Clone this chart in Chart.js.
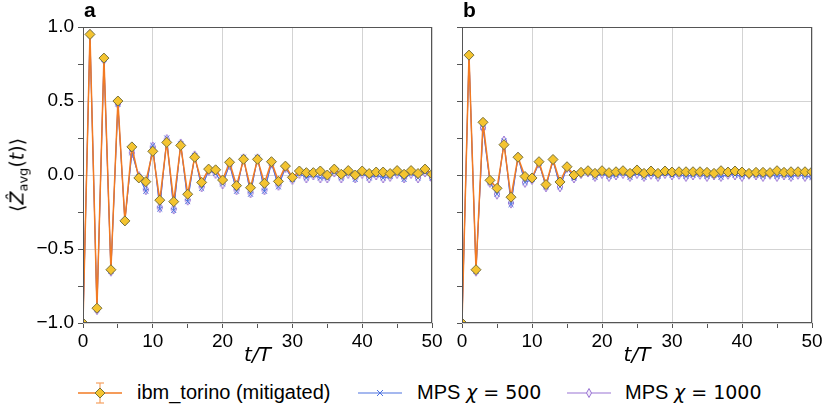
<!DOCTYPE html>
<html>
<head>
<meta charset="utf-8">
<script src="https://cdn.jsdelivr.net/npm/chart.js@4.4.1/dist/chart.umd.min.js"></script>
<style>
  body { margin: 0; background: #fff; }
  #wrap { position: relative; width: 830px; height: 419px; font-family: "Liberation Sans", Arial, sans-serif; color: #000; }
  canvas { position: absolute; top: 0; }
  .tag { position: absolute; top: -2px; font-weight: bold; font-size: 21px; }
  #ylab { position: absolute; left: 18px; top: 175px; transform: translate(-50%, -50%) rotate(-90deg);
          font-family: "DejaVu Sans", sans-serif; font-size: 19px; white-space: nowrap; }
  #ylab sub { font-size: 13px; vertical-align: -4px; }
  .leg-icon { position: absolute; top: 381px; }
  .leg-text { position: absolute; top: 381px; font-size: 20px; white-space: nowrap; }
  .math { font-family: "DejaVu Sans", sans-serif; font-size: 19px; }
</style>
</head>
<body>
<div id="wrap">
  <canvas id="chartA" width="445" height="370" style="left:0"></canvas>
  <canvas id="chartB" width="385" height="370" style="left:445px"></canvas>
  <div class="tag" style="left:84px">a</div>
  <div class="tag" style="left:463px">b</div>
  <div id="ylab">⟨<i>Ẑ</i><sub>avg</sub>(<i>t</i>)⟩</div>

  <svg class="leg-icon" style="left:78px" width="44" height="24">
    <line x1="0" y1="12" x2="44" y2="12" stroke="#f27a22" stroke-width="1.5"/>
    <line x1="22" y1="2" x2="22" y2="22" stroke="#f5a060" stroke-width="1.2"/>
    <line x1="18" y1="2" x2="26" y2="2" stroke="#f5a060" stroke-width="1.2"/>
    <line x1="18" y1="22" x2="26" y2="22" stroke="#f5a060" stroke-width="1.2"/>
    <path d="M22 7 L27 12 L22 17 L17 12 Z" fill="#f4c430" stroke="#77703a" stroke-width="1"/>
  </svg>
  <div class="leg-text" style="left:137px">ibm_torino (mitigated)</div>

  <svg class="leg-icon" style="left:358px" width="44" height="24">
    <line x1="0" y1="12" x2="44" y2="12" stroke="#4c72e0" stroke-width="1.2"/>
    <path d="M19 9 L25 15 M25 9 L19 15" stroke="#4c72e0" stroke-width="1"/>
  </svg>
  <div class="leg-text" style="left:417px">MPS <span class="math"><i>χ</i> = 500</span></div>

  <svg class="leg-icon" style="left:567px" width="44" height="24">
    <line x1="0" y1="12" x2="44" y2="12" stroke="#9a74d4" stroke-width="1.2"/>
    <path d="M22 7.5 L24.5 12 L22 16.5 L19.5 12 Z" fill="#f3eefb" stroke="#9a74d4" stroke-width="1"/>
  </svg>
  <div class="leg-text" style="left:625px">MPS <span class="math"><i>χ</i> = 1000</span></div>
</div>

<script>
// time steps t/T
const steps = Array.from({ length: 51 }, (_, i) => i);

// panel a
const torinoA = [-1.0, 0.95, -0.90, 0.79, -0.64, 0.50, -0.31, 0.19, -0.02, -0.045,
  0.16, -0.17, 0.22, -0.18, 0.20, -0.13, 0.12, -0.05, 0.04, 0.035,
  -0.034, 0.086, -0.072, 0.106, -0.086, 0.106, -0.056, 0.09, -0.043, 0.06,
  -0.016, 0.027, 0.016, 0.016, 0.027, 0.0, 0.04, 0.005, 0.03, 0.0,
  0.027, 0.01, 0.02, 0.02, 0.01, 0.03, 0.005, 0.03, 0.01, 0.04, 0.005];
const mps500A = [-1.0, 0.95, -0.91, 0.78, -0.65, 0.48, -0.31, 0.15, -0.01, -0.11,
  0.20, -0.23, 0.25, -0.24, 0.21, -0.18, 0.13, -0.09, 0.03, 0.01,
  -0.06, 0.07, -0.11, 0.12, -0.13, 0.12, -0.11, 0.08, -0.08, 0.05,
  -0.03, 0.01, -0.02, 0.0, -0.02, -0.02, 0.02, -0.02, 0.01, -0.03,
  0.01, -0.02, 0.0, -0.02, -0.01, 0.01, -0.03, 0.01, -0.02, 0.02, -0.02];
const mps1000A = [-1.0, 0.95, -0.91, 0.78, -0.65, 0.48, -0.31, 0.15, -0.01, -0.10,
  0.19, -0.22, 0.24, -0.23, 0.21, -0.17, 0.13, -0.08, 0.03, 0.01,
  -0.06, 0.07, -0.10, 0.11, -0.12, 0.11, -0.10, 0.08, -0.07, 0.05,
  -0.03, 0.01, -0.02, 0.0, -0.02, -0.02, 0.02, -0.02, 0.01, -0.02,
  0.01, -0.02, 0.0, -0.02, -0.01, 0.01, -0.02, 0.01, -0.02, 0.02, -0.02];

// panel b
const torinoB = [-1.0, 0.81, -0.64, 0.356, -0.036, -0.09, 0.205, -0.15, 0.12, -0.01,
  -0.02, 0.09, -0.065, 0.105, -0.047, 0.056, 0.0, 0.018, 0.029, 0.011,
  0.029, 0.016, 0.022, 0.029, 0.011, 0.034, 0.011, 0.027, 0.011, 0.027,
  0.02, 0.022, 0.022, 0.022, 0.022, 0.018, 0.011, 0.029, 0.02, 0.027,
  0.02, 0.011, 0.018, 0.018, 0.016, 0.029, 0.018, 0.022, 0.022, 0.022, 0.022];
const mps500B = [-1.0, 0.81, -0.65, 0.32, -0.05, -0.13, 0.23, -0.20, 0.12, -0.05,
  -0.03, 0.08, -0.08, 0.10, -0.08, 0.05, -0.02, 0.01, 0.02, -0.015,
  0.01, -0.01, 0.0, 0.01, -0.015, 0.01, -0.015, 0.005, -0.01, 0.01,
  0.0, 0.005, -0.01, 0.0, 0.005, -0.01, 0.0, -0.015, 0.005, 0.0,
  -0.01, 0.005, 0.0, -0.01, 0.005, -0.01, 0.0, -0.015, 0.005, -0.01, -0.015];
const mps1000B = [-1.0, 0.81, -0.65, 0.32, -0.05, -0.13, 0.23, -0.19, 0.12, -0.05,
  -0.03, 0.08, -0.08, 0.10, -0.08, 0.05, -0.02, 0.01, 0.02, -0.01,
  0.01, -0.01, 0.0, 0.01, -0.01, 0.01, -0.01, 0.005, -0.01, 0.01,
  0.0, 0.005, -0.01, 0.0, 0.005, -0.01, 0.0, -0.01, 0.005, 0.0,
  -0.01, 0.005, 0.0, -0.01, 0.005, -0.01, 0.0, -0.01, 0.005, -0.01, -0.01];

const xTickValues = [0, 10, 20, 30, 40, 50];
const yTickValues = [-1.0, -0.5, 0.0, 0.5, 1.0];

const ORANGE = '#f27a22';
const BLUE = '#4c72e0';
const PURPLE = '#9a74d4';
const FRAME = '#555555';
const GRID = '#d3d3d3';

// thin diamond marker for the chi=1000 series
function thinDiamond() {
  const c = document.createElement('canvas');
  c.width = 8; c.height = 12;
  const g = c.getContext('2d');
  g.beginPath();
  g.moveTo(4, 1); g.lineTo(6.8, 6); g.lineTo(4, 11); g.lineTo(1.2, 6); g.closePath();
  g.fillStyle = 'rgba(243,238,251,0.8)';
  g.fill();
  g.strokeStyle = PURPLE;
  g.lineWidth = 1;
  g.stroke();
  return c;
}
const diamondImg = thinDiamond();

const framePlugin = {
  id: 'frame',
  afterDraw(chart) {
    const a = chart.chartArea;
    const c = chart.ctx;
    c.save();
    c.strokeStyle = FRAME;
    c.lineWidth = 1;
    c.strokeRect(Math.round(a.left) + 0.5, Math.round(a.top) + 0.5,
      Math.round(a.right - a.left) - 1, Math.round(a.bottom - a.top) - 1);
    c.restore();
  }
};

function toPoints(vals) {
  return steps.map((t, i) => ({ x: t, y: vals[i] }));
}

function isOn(list, v) {
  return list.some(m => Math.abs(m - v) < 1e-9);
}

function makeChart(id, torino, m500, m1000, showYLabels, yWidth, padRight) {
  return new Chart(document.getElementById(id), {
    type: 'line',
    data: {
      datasets: [
        {
          label: 'ibm_torino (mitigated)',
          data: toPoints(torino),
          borderColor: ORANGE,
          borderWidth: 1.5,
          pointStyle: 'rectRot',
          pointRadius: 5,
          pointBackgroundColor: '#f4c430',
          pointBorderColor: '#77703a',
          pointBorderWidth: 1,
          order: 0,
          clip: 0
        },
        {
          label: 'MPS χ = 500',
          data: toPoints(m500),
          borderColor: BLUE,
          borderWidth: 1,
          pointStyle: 'crossRot',
          pointRadius: 3.5,
          pointBorderColor: BLUE,
          pointBorderWidth: 1,
          order: 1,
          clip: 0
        },
        {
          label: 'MPS χ = 1000',
          data: toPoints(m1000),
          borderColor: PURPLE,
          borderWidth: 1,
          pointStyle: diamondImg,
          order: 2,
          clip: 0
        }
      ]
    },
    options: {
      responsive: false,
      animation: false,
      events: [],
      layout: { padding: { top: 27, right: padRight, left: 0, bottom: 0 } },
      plugins: { legend: { display: false }, tooltip: { enabled: false } },
      scales: {
        x: {
          type: 'linear',
          min: 0,
          max: 50,
          afterBuildTicks: axis => {
            axis.ticks = [];
            for (let v = 0; v <= 50; v += 5) axis.ticks.push({ value: v });
          },
          afterFit: axis => { axis.height = 47; },
          border: { display: false },
          grid: {
            color: ctx => isOn(xTickValues, ctx.tick.value) ? GRID : 'rgba(0,0,0,0)',
            tickColor: FRAME,
            tickLength: 5
          },
          ticks: {
            autoSkip: false,
            maxRotation: 0,
            padding: 2,
            color: '#000',
            font: { family: 'Liberation Sans', size: 19 },
            callback: v => isOn(xTickValues, v) ? String(v) : ''
          },
          title: {
            display: true,
            text: 't/T',
            color: '#000',
            padding: { top: 0, bottom: 2 },
            font: { family: 'DejaVu Sans', size: 20, style: 'italic' }
          }
        },
        y: {
          min: -1,
          max: 1,
          afterBuildTicks: axis => {
            axis.ticks = [];
            for (let k = -4; k <= 4; k++) axis.ticks.push({ value: k * 0.25 });
          },
          afterFit: axis => { axis.width = yWidth; },
          border: { display: false },
          grid: {
            color: ctx => isOn(yTickValues, ctx.tick.value) ? GRID : 'rgba(0,0,0,0)',
            tickColor: FRAME,
            tickLength: 5
          },
          ticks: {
            autoSkip: false,
            padding: 4,
            color: '#000',
            font: { family: 'Liberation Sans', size: 19 },
            callback: v => (showYLabels && isOn(yTickValues, v)) ? v.toFixed(1).replace('-', '\u2212') : ''
          }
        }
      }
    },
    plugins: [framePlugin]
  });
}

makeChart('chartA', torinoA, mps500A, mps1000A, true, 83, 13);
makeChart('chartB', torinoB, mps500B, mps1000B, false, 17, 18);
</script>
</body>
</html>
